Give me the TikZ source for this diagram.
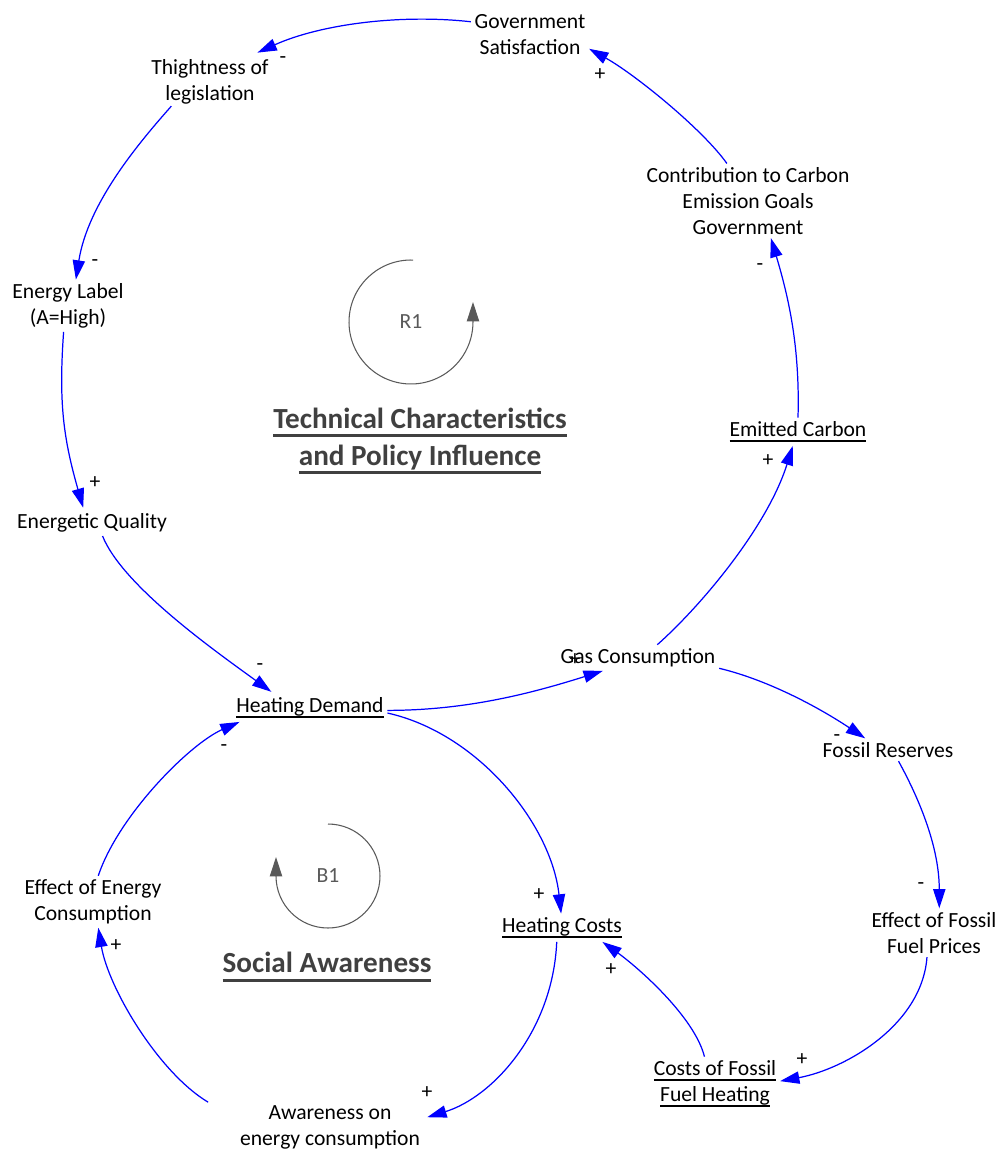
\documentclass[tikz,border=0pt]{standalone}
\usepackage{fontspec}
\setmainfont{Carlito}
\usepackage{tikz}
\usetikzlibrary{arrows.meta, positioning}
\definecolor{linkblue}{RGB}{0,0,255}
\definecolor{loopgray}{RGB}{89,89,89}
\definecolor{titlegray}{RGB}{64,64,64}
\newcommand{\ulvar}[1]{\setbox0\hbox{#1}\rlap{\vrule height -2.2pt depth 3.2pt width \wd0}\box0}
\newcommand{\ultitle}[1]{\setbox0\hbox{#1}\rlap{\vrule height -3.2pt depth 4.9pt width \wd0}\box0}
\tikzstyle{var} = [align=center, inner sep=2pt, yshift=-1pt, font=\fontsize{12.3}{14.7}\selectfont]
\tikzstyle{sign} = [inner sep=0pt, font=\fontsize{12.3}{14.7}\selectfont]
\tikzstyle{link} = [draw=linkblue, line width=0.7pt, -{Triangle[length=11pt,width=7pt]}]
\tikzstyle{loopicon} = [draw=loopgray, line width=0.6pt, -{Triangle[length=11pt,width=7pt]}]
\tikzstyle{looplabel} = [text=loopgray, font=\fontsize{12.3}{14.7}\selectfont]
\tikzstyle{looptitle} = [align=center, text=titlegray, font=\fontsize{16.6}{21}\selectfont\bfseries]

\begin{document}
\begin{tikzpicture}[x=0.02cm, y=0.02cm]
\useasboundingbox (0,0) rectangle (1006,-1153);

% variables
\node (gov) [var] at (530,-33) {Government\\Satisfaction};
\node (tight) [var] at (210,-80) {Thightness of\\legislation};
\node (contrib) [var] at (748,-199) {Contribution to Carbon\\Emission Goals\\Government};
\node (elabel) [var] at (68,-304) {Energy Label\\(A=High)};
\node (emitted) [var] at (798,-430) {\ulvar{Emitted Carbon}};
\node (equal) [var] at (92,-521) {Energetic Quality};
\node (gas) [var] at (638,-656) {Gas Consumption};
\node (hdemand) [var] at (310,-706) {\ulvar{Heating Demand}};
\node (freserves) [var] at (888,-748) {Fossil Reserves};
\node (eec) [var] at (93,-900) {Effect of Energy\\Consumption};
\node (hcosts) [var] at (562,-926) {\ulvar{Heating Costs}};
\node (efp) [var] at (934,-931) {Effect of Fossil\\Fuel Prices};
\node (cffh) [var] at (715,-1082) {\ulvar{Costs of Fossil}\\\ulvar{Fuel Heating}};
\node (aware) [var] at (330,-1126) {Awareness on\\energy consumption};

% loops
\node (r1) [looplabel] at (411,-322) {R1};
\draw [loopicon] ([shift={(88:1.24cm)}]r1.center) arc[start angle=88, end angle=360, radius=1.24cm] -- ++(0,20);
\node (t1) [looptitle] at (420,-441) {\ultitle{Technical Characteristics}\\\ultitle{and Policy Influence}};
\node (b1) [looplabel] at (328,-876) {B1};
\draw [loopicon] ([shift={(90:1.04cm)}]b1.center) arc[start angle=90, end angle=-180, radius=1.04cm] -- ++(0,19);
\node (t2) [looptitle] at (327,-967) {\ultitle{Social Awareness}};

% links
\draw [link] ([yshift=7.4pt]gov.west) .. controls +(-72,8) and +(62,28) .. ([xshift=27pt,yshift=1.7pt]tight.north);
\draw [link] ([xshift=-22pt,yshift=1pt]tight.south) .. controls +(-31,-35) and +(12,77) .. ([xshift=4.5pt]elabel.north);
\draw [link] ([xshift=-2.5pt]elabel.south) .. controls +(-5,-70) and +(-20,70) .. ([xshift=-5pt,yshift=1pt]equal.north);
\draw [link] ([xshift=6pt]equal.south) .. controls +(20,-50) and +(-55,40) .. ([xshift=-22pt,yshift=1pt]hdemand.north);
\draw [link] ([xshift=3pt]eec.north) .. controls +(20,60) and +(-50,-22) .. ([xshift=4pt]hdemand.south west);
\draw [link] ([yshift=-1.5pt]hdemand.east) .. controls +(80,0) and +(-70,-22) .. ([xshift=-20pt]gas.south);
\draw [link] ([yshift=-3pt]hdemand.east) .. controls +(90,-20) and +(-10,90) .. ([xshift=-0.5pt]hcosts.north);
\draw [link] ([xshift=11pt]gas.north) .. controls +(45,40) and +(-25,-80) .. ([xshift=-3pt]emitted.south);
\draw [link] (emitted.north) .. controls +(2,70) and +(18,-60) .. ([xshift=13pt]contrib.south);
\draw [link] ([xshift=-12pt]contrib.north) .. controls +(-25,35) and +(45,-25) .. ([yshift=-8pt]gov.east);
\draw [link] ([yshift=-6pt]gas.east) .. controls +(50,-12) and +(-45,30) .. ([xshift=-13pt]freserves.north);
\draw [link] ([xshift=6pt]freserves.south) .. controls +(22,-40) and +(0,60) .. ([xshift=3pt]efp.north);
\draw [link] ([xshift=-4pt]efp.south) .. controls +(-5,-68) and +(65,12) .. ([yshift=1.5pt]cffh.east);
\draw [link] ([xshift=-6pt]cffh.north) .. controls +(-10,40) and +(35,-25) .. ([xshift=23pt]hcosts.south);
\draw [link] ([xshift=-3pt]hcosts.south) .. controls +(-4,-90) and +(65,20) .. ([xshift=2pt,yshift=6pt]aware.east);
\draw [link] ([xshift=-16pt]aware.north west) .. controls +(-50,30) and +(10,-60) .. ([xshift=3pt]eec.south);

% polarities
\node (p1) [sign] at (283,-60) {-};
\node (p2) [sign] at (95,-263) {-};
\node (p3) [sign] at (95,-483) {+};
\node (p4) [sign] at (260,-667) {-};
\node (p5) [sign] at (224,-748) {-};
\node (p6) [sign] at (575,-660) {+};
\node (p7) [sign] at (539,-895) {+};
\node (p8) [sign] at (768,-461) {+};
\node (p9) [sign] at (760,-267) {-};
\node (p10) [sign] at (600,-75) {+};
\node (p11) [sign] at (837,-738) {-};
\node (p12) [sign] at (921,-886) {-};
\node (p13) [sign] at (802,-1060) {+};
\node (p14) [sign] at (611,-970) {+};
\node (p15) [sign] at (427,-1093) {+};
\node (p16) [sign] at (116,-946) {+};
\end{tikzpicture}
\end{document}
